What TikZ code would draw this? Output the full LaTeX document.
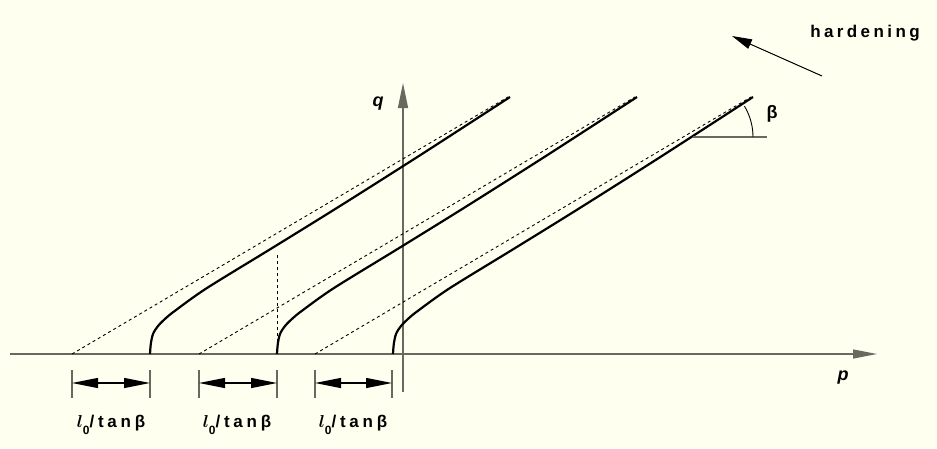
\documentclass[tikz,border=0pt]{standalone}
\usepackage{amsmath}
\usepackage{bm}
\usepackage{fontspec}
\setmainfont{Liberation Sans}
\newfontfamily\spacedfont[LetterSpace=20]{Liberation Sans}
\newfontfamily\widefont[LetterSpace=22]{Liberation Sans}
\usetikzlibrary{arrows.meta}
\definecolor{bgcol}{RGB}{255,255,240}
\definecolor{axiscol}{RGB}{105,105,95}
\tikzset{
  axisline/.style={draw=axiscol,line width=1.3pt},
  curveline/.style={draw=black,line width=2.2pt,line join=round},
  asym/.style={draw=black,line width=0.9pt,dash pattern=on 3pt off 3pt},
  tickline/.style={draw=axiscol,line width=1.1pt},
  dimarrow/.style={draw=black,line width=1.1pt,{Triangle[length=26pt,width=10pt]}-{Triangle[length=26pt,width=10pt]}},
  lbl/.style={font=\spacedfont\bfseries\fontsize{17}{20}\selectfont,inner sep=0pt},
  dimlbl/.style={font=\widefont\bfseries\fontsize{17}{20}\selectfont,inner sep=0pt},
}
\begin{document}
\begin{tikzpicture}[x=1pt,y=-1pt]
\fill[bgcol] (0,0) rectangle (937,448);
\useasboundingbox (0,0) rectangle (937,448);
% axes
\coordinate (p0) at (10,354);
\coordinate (p1) at (877,354);
\coordinate (q0) at (403,392);
\coordinate (q1) at (403,83);
\draw[axisline,-{Triangle[length=24pt,width=9pt]}] (p0) -- (p1);
\draw[axisline,-{Triangle[length=25pt,width=10pt]}] (q0) -- (q1);
\node[lbl,font=\bfseries\itshape\fontsize{18}{20}\selectfont] (qlab) at (378,104) {q};
\node[lbl,font=\bfseries\itshape\fontsize{18}{20}\selectfont] (plab) at (843,378) {p};
% yield curves and asymptotes
\foreach \a in {72,199,315}{
  \draw[asym] (\a,354) -- ({\a+436},97);
  \draw[curveline] plot[smooth,tension=0.5] coordinates {
     ({\a+78},354) ({\a+78.8},344) ({\a+81},334) ({\a+86},326) ({\a+94},318) ({\a+104},310)
     ({\a+135},288) ({\a+201},247.5) ({\a+268},206) ({\a+350},154) ({\a+438},97)};
}
% vertical dashed line
\coordinate (v0) at (277,354);
\coordinate (v1) at (277,255);
\draw[asym] (v0) -- (v1);
% angle beta
\coordinate (bc) at (693,137);
\coordinate (be) at (767,137);
\draw[axisline,line width=1.1pt] (bc) -- (be);
\draw[black,line width=0.9pt] (753,137) arc[start angle=0,end angle=-31,radius=60];
\node[lbl,font=\bfseries\fontsize{18}{20}\selectfont] (beta) at (772,114) {β};
% hardening arrow
\coordinate (h1) at (822,76);
\coordinate (h2) at (732,36);
\draw[black,line width=1pt,-{Triangle[length=20pt,width=10pt]}] (h1) -- (h2);
\node[lbl,anchor=center] (hard) at (865,33) {hardening};
% dimension markers
\foreach \l/\r/\m in {72/150/111,199/277/237,315/392/353}{
  \draw[tickline] (\l,370) -- (\l,398);
  \draw[tickline] (\r,370) -- (\r,398);
  \draw[dimarrow] (\l,383) -- (\r,383);
  \node[dimlbl] at (\m,425) {$\bm{l}$\raisebox{-0.4em}{\fontsize{12}{12}\selectfont 0}/tanβ};
}
\end{tikzpicture}
\end{document}
